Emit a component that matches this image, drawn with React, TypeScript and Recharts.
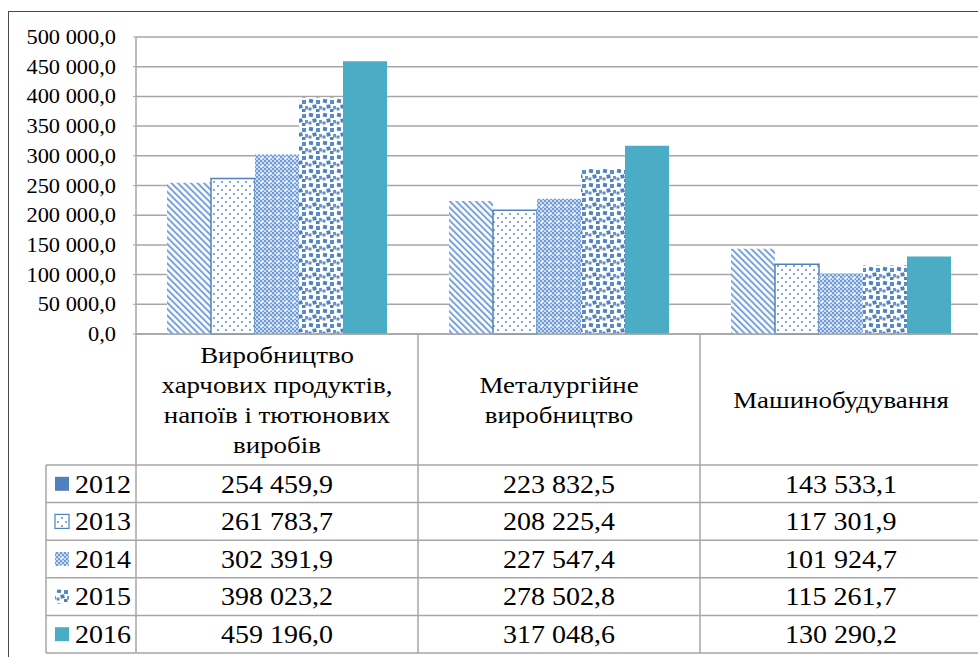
import { BarChart, Bar, XAxis, YAxis, CartesianGrid } from 'recharts';

const categories = [
  'Виробництво харчових продуктів, напоїв і тютюнових виробів',
  'Металургійне виробництво',
  'Машинобудування',
];
// how the category names break inside the table header
const headerLines = [
  ['Виробництво', 'харчових продуктів,', 'напоїв і тютюнових', 'виробів'],
  ['Металургійне', 'виробництво'],
  ['Машинобудування'],
];
const years = ['2012', '2013', '2014', '2015', '2016'];
const values2012 = [254459.9, 223832.5, 143533.1];
const values2013 = [261783.7, 208225.4, 117301.9];
const values2014 = [302391.9, 227547.4, 101924.7];
const values2015 = [398023.2, 278502.8, 115261.7];
const values2016 = [459196.0, 317048.6, 130290.2];
const yTicks = [0, 50000, 100000, 150000, 200000, 250000, 300000, 350000, 400000, 450000, 500000];

const seriesValues = [values2012, values2013, values2014, values2015, values2016];

const data = categories.map((name, i) => {
  const row: any = { name };
  years.forEach((y, s) => { row['y' + y] = seriesValues[s][i]; });
  return row;
});

// chart geometry
const CHART_W = 982;
const CHART_H = 657;
const AXIS_W = 136;
const TOP = 37;
const PLOT_BOTTOM = 334;
const PLOT_W = CHART_W - AXIS_W;
const BAND = PLOT_W / categories.length;
const HEADER_BOTTOM = 465;
const ROW_H = 37.6;
const LEGEND_LEFT = 46;
const SX = 1.12;
const FONT = "'Liberation Serif', Tinos, 'Times New Roman', 'DejaVu Serif', serif";
const GRID = '#a6a6a6';

const barFills = ['url(#p2012)', 'url(#p2013)', 'url(#p2014)', 'url(#p2015)', '#4bacc6'];
const legendFills = ['#4f81bd', 'url(#p2013)', 'url(#p2014)', 'url(#p2015)', '#4bacc6'];

function fmt(v: number) {
  const [int, dec] = v.toFixed(1).split('.');
  return int.replace(/\B(?=(\d{3})+(?!\d))/g, ' ') + ',' + dec;
}

function SText({ x, y, size, anchor = 'middle', children }: any) {
  return (
    <text
      transform={`translate(${x},${y}) scale(${SX},1)`}
      textAnchor={anchor}
      dy="0.35em"
      style={{ fontFamily: FONT, fontSize: size }}
      fill="#000"
    >
      {children}
    </text>
  );
}

function YTick({ x, y, payload }: any) {
  return <SText x={x} y={y} size={20} anchor="end">{fmt(payload.value)}</SText>;
}

function TableTick({ x, payload, index }: any) {
  const left = x - BAND / 2;
  const right = x + BAND / 2;
  const lines = headerLines[index] || [payload.value];
  const headerMid = (PLOT_BOTTOM + HEADER_BOTTOM) / 2;
  const tableBottom = HEADER_BOTTOM + ROW_H * years.length;
  return (
    <g>
      <line x1={left} x2={left} y1={PLOT_BOTTOM} y2={tableBottom} stroke={GRID} strokeWidth={1.5} />
      {lines.map((t, k) => (
        <SText key={k} x={x} y={headerMid + (k - (lines.length - 1) / 2) * 30} size={24}>{t}</SText>
      ))}
      {years.map((yr, s) => (
        <g key={yr}>
          <line x1={left} x2={right} y1={HEADER_BOTTOM + ROW_H * s} y2={HEADER_BOTTOM + ROW_H * s} stroke={GRID} strokeWidth={1.5} />
          <SText x={x} y={HEADER_BOTTOM + ROW_H * (s + 0.5)} size={25}>{fmt(seriesValues[s][index])}</SText>
        </g>
      ))}
      <line x1={left} x2={right} y1={tableBottom} y2={tableBottom} stroke={GRID} strokeWidth={1.5} />
      {index === 0 && (
        <g>
          <line x1={LEGEND_LEFT} x2={LEGEND_LEFT} y1={HEADER_BOTTOM} y2={tableBottom} stroke={GRID} strokeWidth={1.5} />
          {years.map((yr, s) => {
            const cy = HEADER_BOTTOM + ROW_H * (s + 0.5);
            return (
              <g key={yr}>
                <line x1={LEGEND_LEFT} x2={left} y1={HEADER_BOTTOM + ROW_H * s} y2={HEADER_BOTTOM + ROW_H * s} stroke={GRID} strokeWidth={1.5} />
                <rect x={55} y={cy - 7} width={14} height={14} fill={legendFills[s]}
                  stroke={s === 1 ? '#4f81bd' : 'none'} strokeWidth={1.2} />
                <SText x={75} y={cy} size={25} anchor="start">{yr}</SText>
              </g>
            );
          })}
          <line x1={LEGEND_LEFT} x2={left} y1={tableBottom} y2={tableBottom} stroke={GRID} strokeWidth={1.5} />
        </g>
      )}
    </g>
  );
}

function Patterns() {
  return (
    <svg width={0} height={0} style={{ position: 'absolute' }}>
      <defs>
        <pattern id="p2012" width={4.6} height={4.6} patternUnits="userSpaceOnUse" patternTransform="rotate(-45)">
          <rect width={4.6} height={4.6} fill="#fff" />
          <rect width={2} height={4.6} fill="#78a2da" />
        </pattern>
        <pattern id="p2013" width={8} height={8} patternUnits="userSpaceOnUse">
          <rect width={8} height={8} fill="#fff" />
          <circle cx={2} cy={2} r={1.1} fill="#6894d4" />
          <circle cx={6} cy={6} r={1.1} fill="#6894d4" />
        </pattern>
        <pattern id="p2014" width={8} height={8} patternUnits="userSpaceOnUse">
          <rect width={8} height={8} fill="#c9daf2" />
          <rect x={0} y={0} width={2} height={2} fill="#6e9ad6" />
          <rect x={2} y={2} width={2} height={2} fill="#6e9ad6" />
          <rect x={4} y={0} width={2} height={2} fill="#6e9ad6" />
          <rect x={6} y={2} width={2} height={2} fill="#6e9ad6" />
          <rect x={0} y={4} width={2} height={2} fill="#6e9ad6" />
          <rect x={4} y={4} width={2} height={2} fill="#6e9ad6" />
          <rect x={2} y={6} width={2} height={2} fill="#6e9ad6" />
          <rect x={6} y={6} width={2} height={2} fill="#6e9ad6" />
          <rect x={4.5} y={5.5} width={3} height={1} fill="#fff" />
          <rect x={5.5} y={4.5} width={1} height={3} fill="#fff" />
        </pattern>
        <pattern id="p2015" width={14} height={14} patternUnits="userSpaceOnUse">
          <rect width={14} height={14} fill="#fff" />
          <rect x={1} y={1} width={4} height={4} fill="#4f81bd" transform="rotate(10 3 3)" />
          <rect x={8} y={2} width={4} height={4} fill="#5a8ccb" />
          <rect x={4.5} y={6.5} width={4} height={4} fill="#4f81bd" transform="rotate(-12 6.5 8.5)" />
          <rect x={11} y={8} width={3} height={3.5} fill="#6b98d2" />
          <rect x={0.5} y={9.5} width={3} height={3} fill="#5a8ccb" />
          <rect x={8} y={11} width={3.5} height={3} fill="#4f81bd" />
        </pattern>
      </defs>
    </svg>
  );
}

export default function App() {
  return (
    <div style={{ position: 'absolute', left: 0, top: 0, width: 978, height: 657, overflow: 'hidden', background: '#fff' }}>
      <Patterns />
      <div style={{ position: 'absolute', left: 8, top: 11, width: 980, height: 660, borderTop: '1.5px solid #4a4a4a', borderLeft: '1.5px solid #4a4a4a' }} />
      <div style={{ position: 'absolute', left: 0, top: 0 }}>
        <BarChart
          width={CHART_W}
          height={CHART_H}
          data={data}
          margin={{ top: TOP, right: 0, left: 0, bottom: 0 }}
          barCategoryGap={31}
          barGap={0}
        >
          <CartesianGrid horizontal vertical={false} stroke={GRID} strokeWidth={1.5} />
          <XAxis
            dataKey="name"
            height={CHART_H - PLOT_BOTTOM}
            axisLine={{ stroke: GRID, strokeWidth: 1.5 }}
            tickLine={false}
            interval={0}
            tick={<TableTick />}
          />
          <YAxis
            width={AXIS_W}
            domain={[0, 500000]}
            ticks={yTicks}
            interval={0}
            axisLine={{ stroke: GRID, strokeWidth: 1.5 }}
            tickLine={{ stroke: GRID }}
            tickSize={3}
            tickMargin={17}
            tick={<YTick />}
          />
          {years.map((yr, s) => (
            <Bar
              key={yr}
              dataKey={'y' + yr}
              name={yr}
              fill={barFills[s]}
              stroke={s === 1 ? '#4f81bd' : undefined}
              strokeWidth={s === 1 ? 1.5 : 0}
              isAnimationActive={false}
            />
          ))}
        </BarChart>
      </div>
    </div>
  );
}
